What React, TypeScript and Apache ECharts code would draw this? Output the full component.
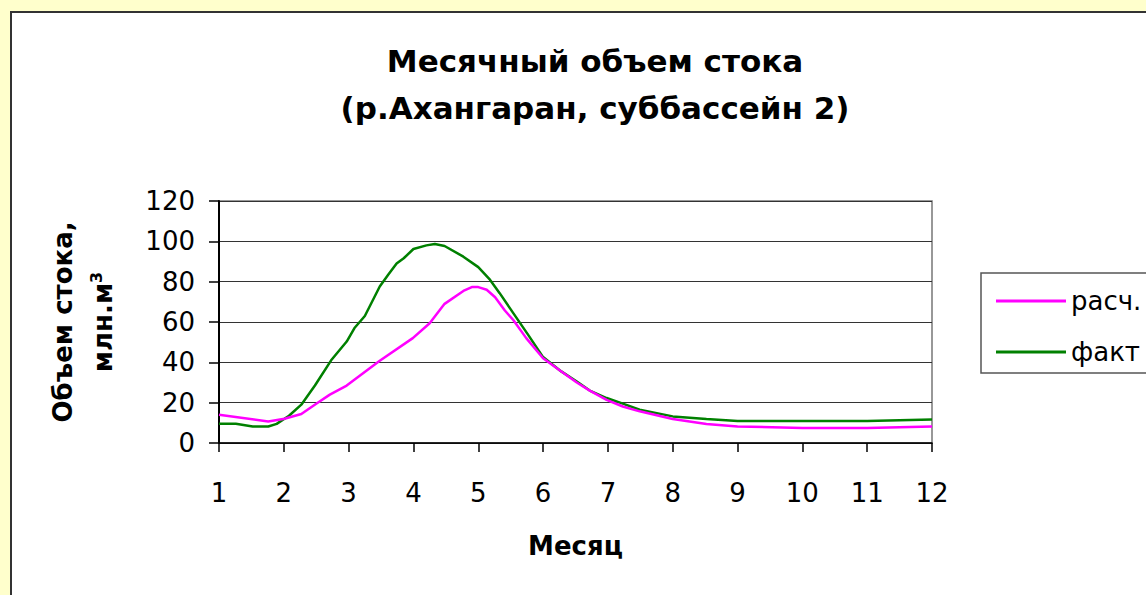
import React, { useEffect, useRef } from "react";
import * as echarts from "echarts";

// Monthly runoff volume, mln m³ — month position (fractional) and value
const calcMonths = [1.0, 1.76, 2.01, 2.27, 2.5, 2.71, 2.97, 3.48, 3.99, 4.25, 4.48, 4.77, 4.9, 5.0, 5.13, 5.26, 5.41, 5.54, 5.74, 6.0, 6.26, 6.52, 6.72, 6.98, 7.23, 7.49, 8.0, 8.52, 9.0, 10.0, 11.0, 12.0];
const calcVolume = [14, 10.7, 12, 14.4, 19.5, 24, 28.5, 40.8, 52, 59.4, 69, 75.4, 77.3, 77.3, 76, 72.3, 65.7, 61, 52, 42, 36, 30, 26, 21.4, 18.1, 15.7, 11.9, 9.4, 8.2, 7.4, 7.4, 8.2];

const factMonths = [1.0, 1.26, 1.52, 1.76, 1.89, 2.08, 2.27, 2.48, 2.73, 2.97, 3.09, 3.25, 3.48, 3.61, 3.74, 3.85, 4.0, 4.2, 4.33, 4.48, 4.77, 5.0, 5.18, 5.33, 5.54, 5.77, 6.0, 6.28, 6.52, 6.72, 6.98, 7.23, 7.49, 8.0, 8.52, 9.0, 10.0, 11.0, 12.0];
const factVolume = [9.5, 9.5, 8.2, 8.2, 9.5, 13.5, 19, 28.5, 41, 50.3, 57, 63, 77.6, 83.4, 89, 91.6, 96.2, 98, 98.7, 97.7, 92.4, 87.2, 81, 74.3, 64.4, 53.6, 42.6, 35.5, 30.5, 26, 22.3, 19.5, 16.5, 13.2, 11.9, 10.9, 10.9, 10.9, 11.7];

const seriesNames = ["расч.", "факт"];
const seriesColors = ["#FF00FF", "#008000"];

const FONT = "DejaVu Sans";

export default function App() {
  const ref = useRef<HTMLDivElement>(null);

  useEffect(() => {
    if (!ref.current) return;
    const chart = echarts.init(ref.current, undefined, { renderer: "svg" });

    const calcData = calcMonths.map((m, i) => [m, calcVolume[i]]);
    const factData = factMonths.map((m, i) => [m, factVolume[i]]);

    chart.setOption({
      animation: false,
      backgroundColor: "#FFFFCC",
      textStyle: { fontFamily: FONT },
      graphic: [
        {
          type: "rect",
          z: -10,
          shape: { x: 11, y: 12, width: 1150, height: 600 },
          style: { fill: "#FFFFFF", stroke: "#333333", lineWidth: 2 },
        },
        {
          type: "rect",
          z: -5,
          shape: { x: 981, y: 273, width: 200, height: 100 },
          style: { fill: "#FFFFFF", stroke: "#555555", lineWidth: 1.5 },
        },
      ],
      title: {
        text: "Месячный объем стока\n(р.Ахангаран, суббассейн 2)",
        left: 590,
        textAlign: "center",
        top: 32,
        textStyle: {
          fontFamily: FONT,
          fontSize: 31,
          fontWeight: "bold",
          color: "#000",
          lineHeight: 47,
        },
      },
      legend: {
        orient: "vertical",
        left: 991,
        top: 283,
        itemWidth: 70,
        itemHeight: 3,
        itemGap: 25,
        icon: "rect",
        data: seriesNames,
        textStyle: {
          fontFamily: FONT,
          fontSize: 26,
          color: "#000",
          lineHeight: 26,
        },
      },
      grid: {
        left: 219,
        right: 214,
        top: 201,
        bottom: 152,
        show: true,
        borderColor: "#777777",
        borderWidth: 1.5,
        backgroundColor: "transparent",
      },
      xAxis: {
        type: "value",
        min: 1,
        max: 12,
        interval: 1,
        name: "Месяц",
        nameLocation: "middle",
        nameGap: 90,
        nameTextStyle: { fontFamily: FONT, fontSize: 26, fontWeight: "bold", color: "#000" },
        axisLine: { show: true, onZero: false, lineStyle: { color: "#000", width: 1.5 } },
        axisTick: { show: true, inside: false, length: 9, lineStyle: { color: "#000", width: 1.5 } },
        axisLabel: { margin: 37, fontFamily: FONT, fontSize: 26, color: "#000" },
        splitLine: { show: false },
      },
      yAxis: {
        type: "value",
        min: 0,
        max: 120,
        interval: 20,
        name: "{a|Объем стока,}\n{a|млн.м}{s|3}",
        nameLocation: "middle",
        nameGap: 96,
        nameRotate: 90,
        nameTextStyle: {
          color: "#000",
          rich: {
            a: { fontFamily: FONT, fontSize: 26, fontWeight: "bold", color: "#000", lineHeight: 40 },
            s: { fontFamily: FONT, fontSize: 16, fontWeight: "bold", color: "#000", padding: [0, 0, 14, 0] },
          },
        },
        axisLine: { show: true, lineStyle: { color: "#000", width: 2 } },
        axisTick: { show: true, inside: false, length: 10, lineStyle: { color: "#000", width: 1.5 } },
        axisLabel: { margin: 24, fontFamily: FONT, fontSize: 26, color: "#000" },
        splitLine: { show: true, lineStyle: { color: "#333333", width: 1 } },
      },
      series: [
        {
          name: seriesNames[0],
          type: "line",
          data: calcData,
          showSymbol: false,
          symbol: "none",
          lineStyle: { color: seriesColors[0], width: 2.5 },
          itemStyle: { color: seriesColors[0] },
          z: 3,
        },
        {
          name: seriesNames[1],
          type: "line",
          data: factData,
          showSymbol: false,
          symbol: "none",
          lineStyle: { color: seriesColors[1], width: 2.5 },
          itemStyle: { color: seriesColors[1] },
          z: 2,
        },
      ],
    });

    return () => chart.dispose();
  }, []);

  return (
    <div
      ref={ref}
      style={{ position: "fixed", left: 0, top: 0, width: 1146, height: 595 }}
    />
  );
}
